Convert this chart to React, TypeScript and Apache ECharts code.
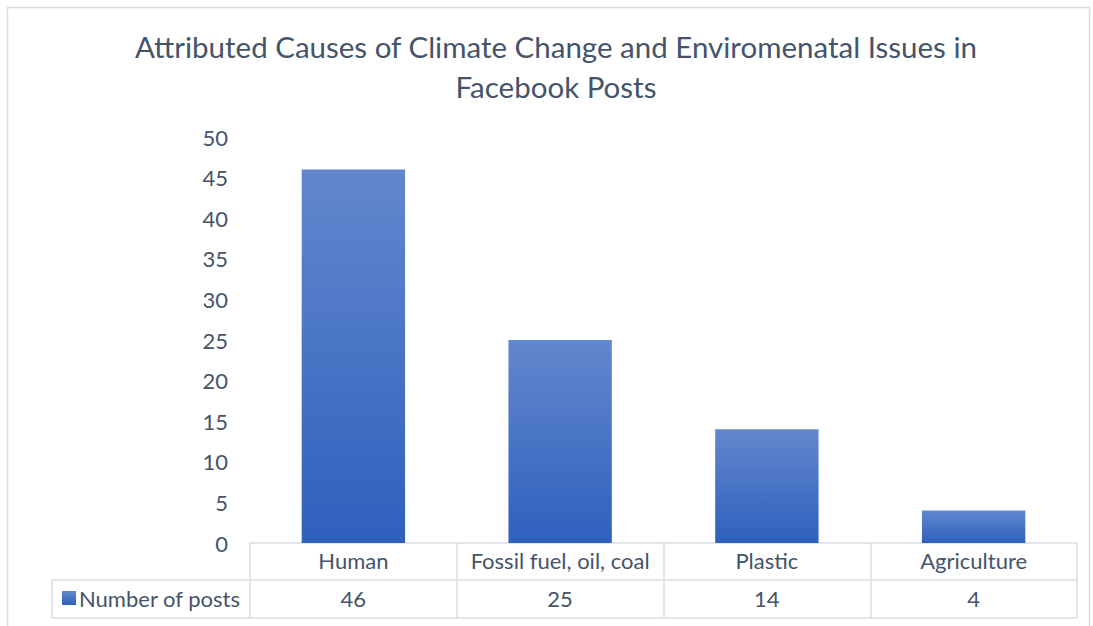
import React, { useEffect, useRef } from "react";
import * as echarts from "echarts";

const categories = ["Human", "Fossil fuel, oil, coal", "Plastic", "Agriculture"];
const values = [46, 25, 14, 4];
const seriesName = "Number of posts";
const titleText = "Attributed Causes of Climate Change and Enviromenatal Issues in\nFacebook Posts";

const FONT = "Lato, 'Open Sans', sans-serif";
const TEXT = "#44546A";
const GRID_LINE = "#D9DDE3";

export default function App() {
  const ref = useRef<HTMLDivElement>(null);
  useEffect(() => {
    if (!ref.current) return;
    const chart = echarts.init(ref.current, undefined, { renderer: "svg" });
    const left = 250, right = 1077, top = 137, axisY = 543;
    chart.setOption({
      animation: false,
      backgroundColor: "#fff",
      textStyle: { fontFamily: FONT },
      title: {
        text: titleText,
        left: 556,
        top: 26,
        padding: 0,
        textAlign: "center",
        textStyle: { fontFamily: FONT, fontSize: 29.5, fontWeight: "normal", color: TEXT, lineHeight: 40 },
      },
      legend: {
        data: [seriesName],
        left: 62,
        top: 587,
        padding: 0,
        icon: "rect",
        itemWidth: 14,
        itemHeight: 14,
        itemGap: 4,
        textStyle: { fontFamily: FONT, fontSize: 22, color: TEXT, padding: [0, 0, 0, -2] },
      },
      grid: { left, right: 1093 - right, top, bottom: 626 - axisY, containLabel: false },
      xAxis: [
        {
          type: "category",
          data: categories,
          position: "bottom",
          axisLine: { show: true, lineStyle: { color: GRID_LINE, width: 1.5 } },
          axisTick: { show: true, length: 75, lineStyle: { color: GRID_LINE, width: 1.5 } },
          axisLabel: { fontFamily: FONT, fontSize: 22, color: TEXT, margin: 6, interval: 0 },
        },
        {
          type: "category",
          data: values.map(String),
          position: "bottom",
          offset: 37,
          axisLine: { show: false },
          axisTick: { show: false },
          axisLabel: { fontFamily: FONT, fontSize: 22, color: TEXT, margin: 7, interval: 0 },
        },
      ],
      yAxis: {
        type: "value",
        min: 0,
        max: 50,
        interval: 5,
        axisLine: { show: false },
        axisTick: { show: false },
        splitLine: { show: false },
        axisLabel: { fontFamily: FONT, fontSize: 22, color: TEXT, margin: 22 },
      },
      series: [
        {
          name: seriesName,
          type: "bar",
          data: values,
          barWidth: "50%",
          itemStyle: {
            color: new echarts.graphic.LinearGradient(0, 0, 0, 1, [
              { offset: 0, color: "#6387CE" },
              { offset: 1, color: "#2E60BD" },
            ]),
          },
        },
      ],
      graphic: [
        {
          type: "rect",
          shape: { x: 7.5, y: 7.5, width: 1082, height: 640 },
          style: { fill: "none", stroke: GRID_LINE, lineWidth: 1.5 },
          silent: true,
        },
        {
          type: "line",
          shape: { x1: 52, y1: 580, x2: right, y2: 580 },
          style: { stroke: GRID_LINE, lineWidth: 1.5 },
        },
        {
          type: "line",
          shape: { x1: 52, y1: 618, x2: right, y2: 618 },
          style: { stroke: GRID_LINE, lineWidth: 1.5 },
        },
        {
          type: "line",
          shape: { x1: 52, y1: 580, x2: 52, y2: 618 },
          style: { stroke: GRID_LINE, lineWidth: 1.5 },
        },
      ],
    });
    return () => chart.dispose();
  }, []);
  return (
    <div
      ref={ref}
      style={{ position: "absolute", left: 0, top: 0, width: 1093, height: 626 }}
    />
  );
}
